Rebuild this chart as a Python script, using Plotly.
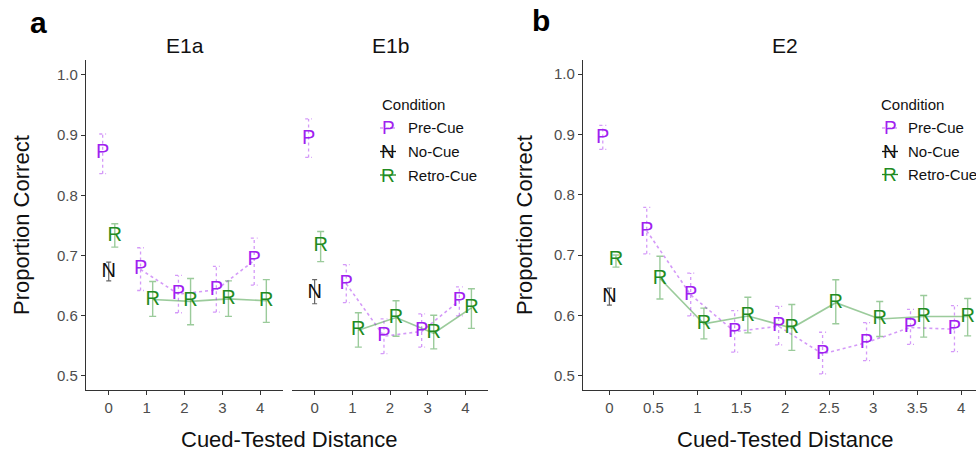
import plotly.graph_objects as go

W, H = 976, 454

# ---------------- data ----------------
conditions = ["Pre-Cue", "No-Cue", "Retro-Cue"]
letters = ["P", "N", "R"]

# E1a
e1a_dist = [0, 1, 2, 3, 4]
e1a_pre = [0.870, 0.677, 0.636, 0.643, 0.692]
e1a_pre_hi = [0.902, 0.713, 0.667, 0.682, 0.729]
e1a_pre_lo = [0.836, 0.642, 0.605, 0.606, 0.651]
e1a_retro = [0.732, 0.627, 0.624, 0.628, 0.625]
e1a_retro_hi = [0.753, 0.657, 0.662, 0.658, 0.660]
e1a_retro_lo = [0.714, 0.599, 0.585, 0.599, 0.589]
e1a_no = [0.673]
e1a_no_hi = [0.689]
e1a_no_lo = [0.658]

# E1b
e1b_dist = [0, 1, 2, 3, 4]
e1b_pre = [0.893, 0.653, 0.566, 0.574, 0.625]
e1b_pre_hi = [0.927, 0.685, 0.595, 0.603, 0.648]
e1b_pre_lo = [0.863, 0.622, 0.537, 0.548, 0.600]
e1b_retro = [0.716, 0.576, 0.597, 0.571, 0.613]
e1b_retro_hi = [0.740, 0.605, 0.625, 0.601, 0.645]
e1b_retro_lo = [0.690, 0.548, 0.566, 0.545, 0.579]
e1b_no = [0.638]
e1b_no_hi = [0.660]
e1b_no_lo = [0.620]

# E2
e2_dist = [0, 0.5, 1, 1.5, 2, 2.5, 3, 3.5, 4]
e2_pre = [0.894, 0.740, 0.634, 0.573, 0.582, 0.536, 0.555, 0.580, 0.577]
e2_pre_hi = [0.915, 0.779, 0.670, 0.608, 0.615, 0.572, 0.588, 0.610, 0.616]
e2_pre_lo = [0.875, 0.702, 0.599, 0.539, 0.551, 0.503, 0.525, 0.552, 0.540]
e2_retro = [0.691, 0.661, 0.586, 0.599, 0.579, 0.621, 0.594, 0.598, 0.598]
e2_retro_hi = [0.700, 0.698, 0.612, 0.630, 0.618, 0.659, 0.623, 0.633, 0.628]
e2_retro_lo = [0.680, 0.627, 0.561, 0.571, 0.542, 0.586, 0.565, 0.564, 0.566]
e2_no = [0.630]
e2_no_hi = [0.645]
e2_no_lo = [0.617]

e1_ticks = [0, 1, 2, 3, 4]
e1_ticktext = ["0", "1", "2", "3", "4"]
e2_ticks = [0, 0.5, 1, 1.5, 2, 2.5, 3, 3.5, 4]
e2_ticktext = ["0", "0.5", "1", "1.5", "2", "2.5", "3", "3.5", "4"]
y_ticks = [0.5, 0.6, 0.7, 0.8, 0.9, 1.0]

# ---------------- styles ----------------
PURPLE = "#A020F0"
PURPLE_L = "rgba(160,32,240,0.45)"
GREEN = "#228B22"
GREEN_L = "rgba(34,139,34,0.45)"
BLACK = "#111111"
GRAY = "#666666"
FONT = "Arial, Liberation Sans, sans-serif"
LETTER_SIZE = 20

fig = go.Figure()


def add_panel(xr, yr, dist, pre, pre_hi, pre_lo, retro, retro_hi, retro_lo,
              no, no_hi, no_lo, dodge, cap):
    xp = [d - dodge for d in dist]
    xr_ = [d + dodge for d in dist]
    # connecting lines (distance > 0 only)
    fig.add_trace(go.Scatter(x=xp[1:], y=pre[1:], mode="lines", xaxis=xr, yaxis=yr,
                             line=dict(color=PURPLE_L, width=1.6, dash="dot"),
                             hoverinfo="skip", showlegend=False))
    fig.add_trace(go.Scatter(x=xr_[1:], y=retro[1:], mode="lines", xaxis=xr, yaxis=yr,
                             line=dict(color=GREEN_L, width=1.6),
                             hoverinfo="skip", showlegend=False))
    # dotted pre-cue error bars
    ex, ey = [], []
    for x, lo, hi in zip(xp, pre_lo, pre_hi):
        ex += [x, x, None, x - cap, x + cap, None, x - cap, x + cap, None]
        ey += [lo, hi, None, hi, hi, None, lo, lo, None]
    fig.add_trace(go.Scatter(x=ex, y=ey, mode="lines", xaxis=xr, yaxis=yr,
                             line=dict(color=PURPLE_L, width=1.3, dash="dot"),
                             hoverinfo="skip", showlegend=False))
    # letters
    fig.add_trace(go.Scatter(
        x=xr_, y=retro, mode="text", text=["R"] * len(dist), xaxis=xr, yaxis=yr,
        textfont=dict(color=GREEN, size=LETTER_SIZE, family=FONT),
        error_y=dict(type="data", symmetric=False,
                     array=[h - m for h, m in zip(retro_hi, retro)],
                     arrayminus=[m - l for m, l in zip(retro, retro_lo)],
                     color=GREEN_L, thickness=1.4, width=3.5),
        name="Retro-Cue", showlegend=False))
    fig.add_trace(go.Scatter(
        x=dist[:1], y=no, mode="text", text=["N"], xaxis=xr, yaxis=yr,
        textfont=dict(color=BLACK, size=LETTER_SIZE, family=FONT),
        error_y=dict(type="data", symmetric=False,
                     array=[h - m for h, m in zip(no_hi, no)],
                     arrayminus=[m - l for m, l in zip(no, no_lo)],
                     color=GRAY, thickness=1.2, width=2.5),
        name="No-Cue", showlegend=False))
    fig.add_trace(go.Scatter(
        x=xp, y=pre, mode="text", text=["P"] * len(dist), xaxis=xr, yaxis=yr,
        textfont=dict(color=PURPLE, size=LETTER_SIZE, family=FONT),
        name="Pre-Cue", showlegend=False))


add_panel("x", "y", e1a_dist, e1a_pre, e1a_pre_hi, e1a_pre_lo, e1a_retro, e1a_retro_hi,
          e1a_retro_lo, e1a_no, e1a_no_hi, e1a_no_lo, 0.16, 0.09)
add_panel("x2", "y2", e1b_dist, e1b_pre, e1b_pre_hi, e1b_pre_lo, e1b_retro, e1b_retro_hi,
          e1b_retro_lo, e1b_no, e1b_no_hi, e1b_no_lo, 0.16, 0.09)
add_panel("x3", "y3", e2_dist, e2_pre, e2_pre_hi, e2_pre_lo, e2_retro, e2_retro_hi,
          e2_retro_lo, e2_no, e2_no_hi, e2_no_lo, 0.075, 0.04)


def px(x):
    return x / W


def py(y):
    return 1 - y / H


AX = dict(showgrid=False, zeroline=False, showline=True, linecolor="#333333",
          linewidth=1.3, ticks="outside", ticklen=4, tickcolor="#333333",
          tickwidth=1.1, tickfont=dict(size=15, color="#4d4d4d", family=FONT),
          automargin=False, fixedrange=True)

ydom = [py(390), py(60)]
fig.update_layout(
    width=W, height=H, margin=dict(l=0, r=0, t=0, b=0),
    paper_bgcolor="white", plot_bgcolor="white", showlegend=False,
    xaxis=dict(AX, domain=[px(86), px(283)], range=[-0.6, 4.6], anchor="y",
               tickvals=e1_ticks, ticktext=e1_ticktext),
    xaxis2=dict(AX, domain=[px(292), px(488)], range=[-0.6, 4.6], anchor="y2",
                tickvals=e1_ticks, ticktext=e1_ticktext),
    xaxis3=dict(AX, domain=[px(583), 1.0], range=[-0.3, 4.17], anchor="y3",
                tickvals=e2_ticks, ticktext=e2_ticktext),
    yaxis=dict(AX, domain=ydom, range=[0.4767, 1.0249], anchor="x",
               tickvals=y_ticks, tickformat=".1f"),
    yaxis2=dict(domain=ydom, range=[0.4767, 1.0249], anchor="x2", showline=False,
                showgrid=False, zeroline=False, showticklabels=False, ticks=""),
    yaxis3=dict(AX, domain=ydom, range=[0.4763, 1.0232], anchor="x3",
                tickvals=y_ticks, tickformat=".1f"),
)

ann = []


def text(x, y, s, size, color="#111111", bold=False, angle=0, xanchor="center"):
    ann.append(dict(x=px(x), y=py(y), xref="paper", yref="paper", text=(f"<b>{s}</b>" if bold else s),
                    showarrow=False, xanchor=xanchor, yanchor="middle", textangle=angle,
                    font=dict(size=size, color=color, family=FONT)))


# panel letters & titles
text(38, 22, "a", 30, "#000000", bold=True)
text(541, 20, "b", 30, "#000000", bold=True)
text(185, 45, "E1a", 21)
text(390, 45, "E1b", 21)
text(785, 45, "E2", 21)
text(22, 225, "Proportion Correct", 22, angle=-90)
text(525, 225, "Proportion Correct", 22, angle=-90)
text(289, 439.5, "Cued-Tested Distance", 22)
text(785, 439.5, "Cued-Tested Distance", 22)

shapes = []


def legend(xc, xs, xt, yc, ys):
    text(xc, yc, "Condition", 15, xanchor="left")
    cols = [PURPLE, BLACK, GREEN]
    lcols = [PURPLE_L, BLACK, GREEN]
    dashes = ["dot", "solid", "solid"]
    for lab, let, c, lc, d, y in zip(conditions, letters, cols, lcols, dashes, ys):
        shapes.append(dict(type="line", xref="paper", yref="paper",
                           x0=px(xs - 8), x1=px(xs + 8), y0=py(y), y1=py(y),
                           line=dict(color=lc, width=1.3, dash=d)))
        text(xs, y, let, 19, c)
        text(xt, y, lab, 15, xanchor="left")


legend(380, 388, 406, 104, [128, 151.5, 175])
legend(879, 890, 906, 104, [128, 151.5, 174.5])

fig.update_layout(annotations=ann, shapes=shapes)
fig.write_html("out.html", config={"displayModeBar": False},
               post_script="document.body.style.margin='0px';document.body.style.overflow='hidden';")
